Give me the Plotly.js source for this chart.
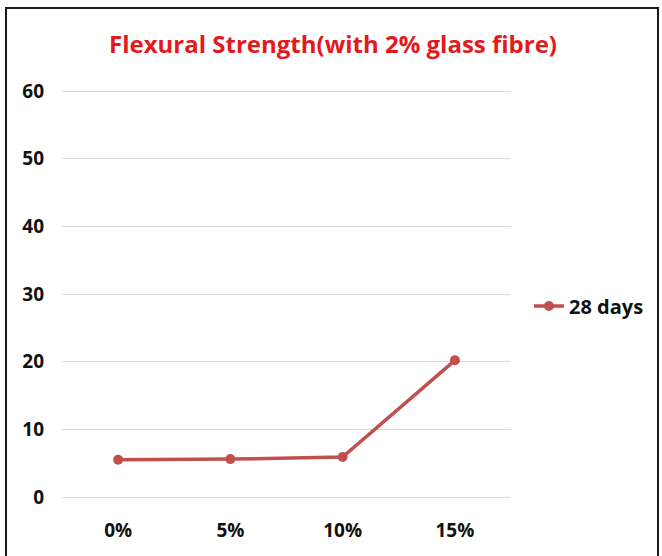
<!DOCTYPE html>
<html>
<head>
<meta charset="utf-8">
<script src="https://cdn.plot.ly/plotly-3.0.1.min.js"></script>
<style>
  html, body { margin: 0; padding: 0; background: #fff; }
  #wrap { position: relative; width: 662px; height: 556px; overflow: hidden; }
  #frame { position: absolute; left: 5px; top: 7px; width: 654px; height: 560px;
           border: 2px solid #1a1a1a; box-sizing: border-box; pointer-events: none; z-index: 2; }
  #chart { position: absolute; left: 0; top: 0; width: 662px; height: 556px; }
</style>
</head>
<body>
<div id="wrap">
  <div id="chart"></div>
  <div id="frame"></div>
</div>
<script>
// Fibre replacement levels and 28-day flexural strength
const categories = ['0%', '5%', '10%', '15%'];
const strength28 = [5.5, 5.6, 5.9, 20.2];
const yTicks = [0, 10, 20, 30, 40, 50, 60];

const lineColor = '#c0504d';
const family = 'Open Sans, sans-serif';
const tickFont = { family: family, size: 19, color: '#111', weight: 700 };
const legendFont = { family: family, size: 20, color: '#111', weight: 700 };

const trace = {
  x: categories,
  y: strength28,
  type: 'scatter',
  mode: 'lines+markers',
  name: '28 days',
  line: { color: lineColor, width: 3.5 },
  marker: { color: lineColor, size: 10 }
};

const layout = {
  width: 662,
  height: 556,
  paper_bgcolor: '#fff',
  plot_bgcolor: '#fff',
  margin: { l: 62, r: 151, t: 89, b: 59 },
  title: {
    text: 'Flexural Strength(with 2% glass fibre)',
    font: { family: family, size: 24, color: '#e3191c', weight: 700 },
    x: 0.503, xanchor: 'center',
    y: 0.919, yanchor: 'middle'
  },
  xaxis: {
    type: 'category',
    range: [-0.5, 3.5],
    showgrid: false,
    zeroline: false,
    showline: false,
    ticks: '',
    tickfont: tickFont,
    ticklabelstandoff: 20
  },
  yaxis: {
    // a little headroom so the 60 gridline is still drawn at the top edge
    range: [0, 60.3],
    tickvals: yTicks,
    showgrid: true,
    gridcolor: '#d9d9d9',
    gridwidth: 1,
    zeroline: true,
    zerolinecolor: '#d9d9d9',
    zerolinewidth: 1,
    showline: false,
    ticks: '',
    tickfont: tickFont,
    ticklabelstandoff: 17
  },
  showlegend: true,
  legend: {
    x: 1.04, xanchor: 'left',
    y: 0.468, yanchor: 'middle',
    font: legendFont,
    bgcolor: 'rgba(0,0,0,0)'
  }
};

Plotly.newPlot('chart', [trace], layout, { displayModeBar: false, staticPlot: true });
</script>
</body>
</html>
